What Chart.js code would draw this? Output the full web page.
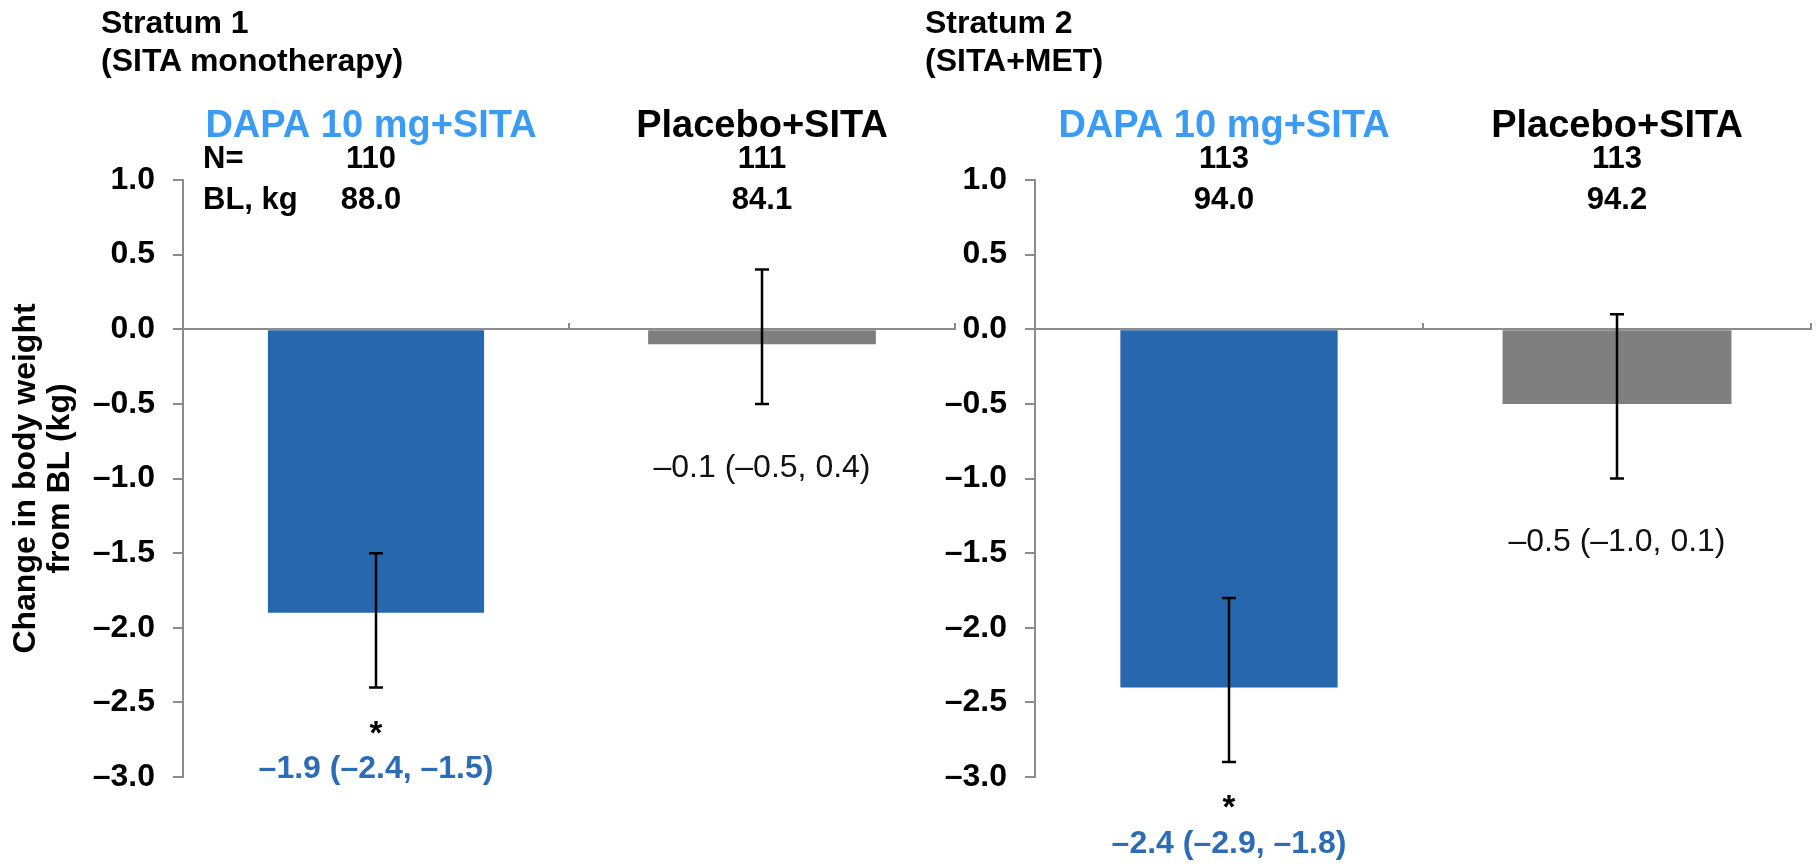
<!DOCTYPE html>
<html>
<head>
<meta charset="utf-8">
<script src="https://cdn.jsdelivr.net/npm/chart.js@4.4.1/dist/chart.umd.min.js"></script>
<style>
  html, body { margin: 0; padding: 0; background: #fff; }
  #wrap { position: relative; width: 1819px; height: 864px; overflow: hidden;
          font-family: "Liberation Sans", Arial, Helvetica, sans-serif; }
  #wrap canvas { position: absolute; left: 0; top: 0; }
  .stratum { position: absolute; top: 3px; font-weight: bold; font-size: 32px;
             line-height: 38px; color: #000; white-space: nowrap; }
</style>
</head>
<body>
<div id="wrap">
  <canvas id="c1" width="1819" height="864"></canvas>
  <canvas id="c2" width="1819" height="864"></canvas>
  <div class="stratum" id="t1" style="left:101px"></div>
  <div class="stratum" id="t2" style="left:925px"></div>
</div>
<script>
// Treatment groups and stratum headings
const groups = ['DAPA 10 mg+SITA', 'Placebo+SITA'];
const strataTitles = ['Stratum 1', 'Stratum 2'];
const strataSubtitles = ['(SITA monotherapy)', '(SITA+MET)'];

// Stratum 1: adjusted mean change in body weight (kg) with 95% CI
const s1Mean = [-1.9, -0.1];
const s1Low  = [-2.4, -0.5];
const s1High = [-1.5, 0.4];
const s1N    = [110, 111];
const s1BL   = ['88.0', '84.1'];

// Stratum 2
const s2Mean = [-2.4, -0.5];
const s2Low  = [-2.9, -1.0];
const s2High = [-1.8, 0.1];
const s2N    = [113, 113];
const s2BL   = ['94.0', '94.2'];

// Which group carries the significance marker
const significant = [true, false];

// Value axis
const yMin = -3.0, yMax = 1.0, yStep = 0.5;
const yTitle = ['Change in body weight', 'from BL (kg)'];
const rowLabels = ['N=', 'BL, kg'];

const FONT = '"Liberation Sans", Arial, Helvetica, sans-serif';
const AXIS_GREY = '#8c8c8c';
const BAR_COLORS = ['#2767AE', '#7F7F7F'];
const HEAD_COLORS = ['#3A9BF5', '#000000'];
const CI_COLORS = ['#2B6CB5', '#111111'];
const CI_WEIGHT = ['bold', 'normal'];

const fmt = v => (v < 0 ? '\u2013' : '') + Math.abs(v).toFixed(1);

document.getElementById('t1').innerHTML = strataTitles[0] + '<br>' + strataSubtitles[0];
document.getElementById('t2').innerHTML = strataTitles[1] + '<br>' + strataSubtitles[1];

function buildPanel(canvasId, panel) {
  const annotations = {
    id: 'panelText_' + canvasId,
    afterDatasetsDraw(chart) {
      const ctx = chart.ctx;
      const xs = chart.scales.x, ys = chart.scales.y;
      ctx.save();

      // confidence-interval whiskers
      ctx.strokeStyle = '#000';
      ctx.lineWidth = 2.5;
      for (let j = 0; j < groups.length; j++) {
        const x = xs.getPixelForValue(j);
        const yl = ys.getPixelForValue(panel.low[j]);
        const yh = ys.getPixelForValue(panel.high[j]);
        ctx.beginPath();
        ctx.moveTo(x, yh); ctx.lineTo(x, yl);
        ctx.moveTo(x - 7, yh); ctx.lineTo(x + 7, yh);
        ctx.moveTo(x - 7, yl); ctx.lineTo(x + 7, yl);
        ctx.stroke();
      }

      ctx.textBaseline = 'middle';

      // group headers with N and baseline weight
      for (let j = 0; j < groups.length; j++) {
        const x = xs.getPixelForValue(j) - (j === 0 ? 5 : 0);
        ctx.textAlign = 'center';
        ctx.fillStyle = HEAD_COLORS[j];
        ctx.font = 'bold 38px ' + FONT;
        ctx.fillText(groups[j], x, 127);
        ctx.fillStyle = '#000';
        ctx.font = 'bold 31px ' + FONT;
        ctx.fillText(String(panel.n[j]), x, 159);
        ctx.fillText(panel.bl[j], x, 200);
      }
      if (panel.rowLabels) {
        ctx.textAlign = 'left';
        ctx.fillStyle = '#000';
        ctx.font = 'bold 31px ' + FONT;
        ctx.fillText(rowLabels[0], xs.left + 20, 159);
        ctx.fillText(rowLabels[1], xs.left + 20, 200);
      }

      // estimate (95% CI) below each whisker
      for (let j = 0; j < groups.length; j++) {
        const x = xs.getPixelForValue(j);
        const yl = ys.getPixelForValue(panel.low[j]);
        ctx.textAlign = 'center';
        let labelY = yl + 64;
        if (significant[j]) {
          ctx.fillStyle = '#000';
          ctx.font = 'bold 33px ' + FONT;
          ctx.fillText('*', x, yl + 47);
          labelY = yl + 82;
        }
        ctx.fillStyle = CI_COLORS[j];
        ctx.font = CI_WEIGHT[j] + ' 32px ' + FONT;
        ctx.fillText(fmt(panel.mean[j]) + ' (' + fmt(panel.low[j]) + ', ' + fmt(panel.high[j]) + ')', x, labelY);
      }
      ctx.restore();
    }
  };

  return new Chart(document.getElementById(canvasId), {
    type: 'bar',
    data: {
      labels: groups,
      datasets: [
        { data: [panel.mean[0], null], backgroundColor: BAR_COLORS[0], borderWidth: 0,
          grouped: false, barPercentage: 0.56, categoryPercentage: 1 },
        { data: [null, panel.mean[1]], backgroundColor: BAR_COLORS[1], borderWidth: 0,
          grouped: false, barPercentage: 0.59, categoryPercentage: 1 }
      ]
    },
    options: {
      responsive: false,
      animation: false,
      events: [],
      layout: { padding: { top: 180, bottom: 87, left: 0, right: panel.padRight } },
      plugins: { legend: { display: false }, tooltip: { enabled: false }, title: { display: false } },
      scales: {
        x: {
          position: { y: 0 },
          z: 1,
          offset: true,
          ticks: { display: false },
          grid: { display: true, offset: true, drawOnChartArea: false, drawTicks: true,
                  tickLength: -7, color: AXIS_GREY, lineWidth: 2 },
          border: { display: true, color: AXIS_GREY, width: 2 }
        },
        y: {
          min: yMin, max: yMax,
          afterFit(scale) { scale.width = panel.plotLeft; },
          ticks: {
            stepSize: yStep,
            color: '#000',
            padding: 18,
            font: { family: FONT, size: 32, weight: 'bold' },
            callback: v => fmt(v)
          },
          grid: { display: true, drawOnChartArea: false, drawTicks: true, tickLength: 10,
                  color: AXIS_GREY, lineWidth: 2 },
          border: { display: true, color: AXIS_GREY, width: 2 },
          title: {
            display: panel.showTitle,
            text: yTitle,
            color: '#000',
            font: { family: FONT, size: 32, weight: 'bold', lineHeight: 1.07 },
            padding: { top: 9, bottom: 0 }
          }
        }
      }
    },
    plugins: [annotations]
  });
}

buildPanel('c1', { mean: s1Mean, low: s1Low, high: s1High, n: s1N, bl: s1BL,
                   plotLeft: 183, padRight: 1819 - 955, rowLabels: true, showTitle: true });
buildPanel('c2', { mean: s2Mean, low: s2Low, high: s2High, n: s2N, bl: s2BL,
                   plotLeft: 1035, padRight: 1819 - 1811, rowLabels: false, showTitle: false });
</script>
</body>
</html>
